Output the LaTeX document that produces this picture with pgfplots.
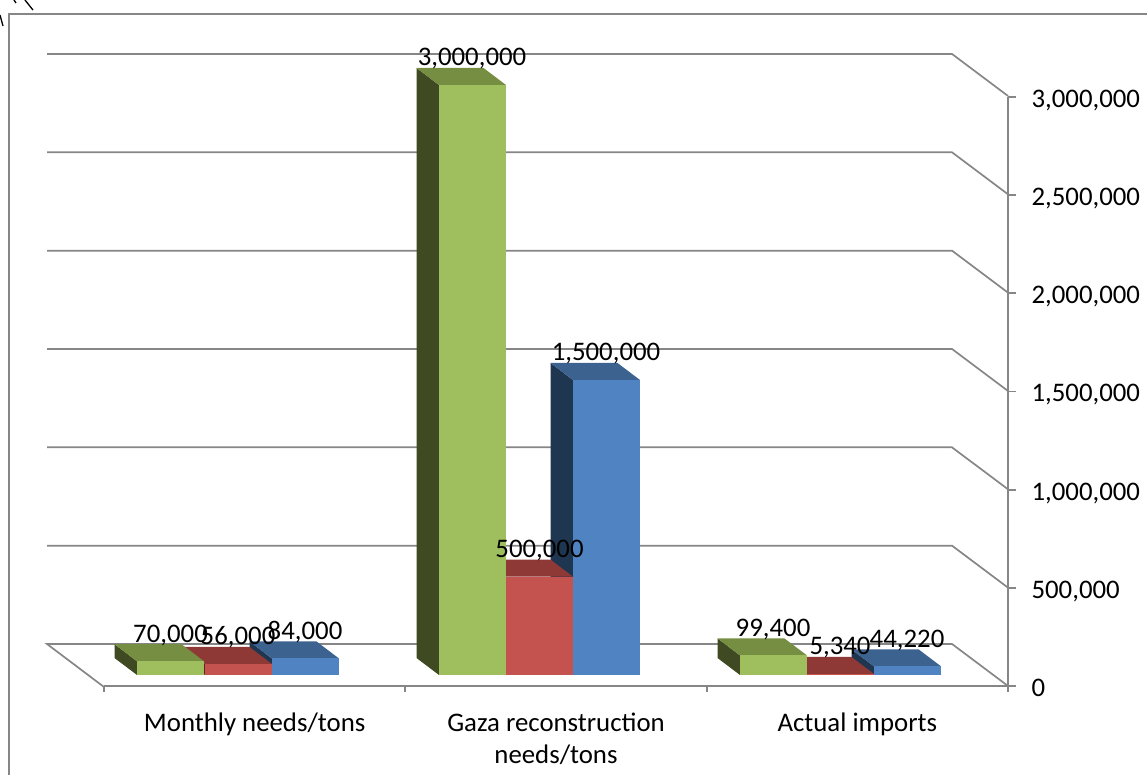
\documentclass[border=0pt]{standalone}
\usepackage{fontspec}
\setmainfont{Carlito}
\usepackage{pgfplots}
\pgfplotsset{compat=1.18}
\definecolor{gridc}{HTML}{868686}
\definecolor{gF}{HTML}{9FBE5D}\definecolor{gS}{HTML}{3F4A22}\definecolor{gT}{HTML}{768E42}
\definecolor{rF}{HTML}{C45350}\definecolor{rS}{HTML}{5E2624}\definecolor{rT}{HTML}{8F3937}
\definecolor{bF}{HTML}{5083C1}\definecolor{bS}{HTML}{1F3650}\definecolor{bT}{HTML}{3C6290}
\newcommand\lblfont{\fontsize{26.8}{32}\selectfont}
% values in thousands of tons; x in picture units
\newcommand\tdbar[3]{% left edge, value, colour prefix
  \pgfmathsetmacro\xa{#1-22.5}\pgfmathsetmacro\xb{#1+67}\pgfmathsetmacro\xc{#1+44.5}
  \pgfmathsetmacro\vt{#2+86.44}
  \addplot[fill=#3S,draw=none,forget plot] coordinates {(\xa,86.44)(#1,0)(#1,#2)(\xa,\vt)} --cycle;
  \addplot[fill=#3T,draw=none,forget plot] coordinates {(#1,#2)(\xa,\vt)(\xc,\vt)(\xb,#2)} --cycle;
  \addplot[fill=#3F,draw=none,forget plot] coordinates {(#1,0)(#1,#2)(\xb,#2)(\xb,0)} --cycle;
}
\newcommand\gridl[1]{%
  \pgfmathsetmacro\va{#1+157.63}\pgfmathsetmacro\vb{#1-55.9}
  \addplot[gridc,line width=1.7pt,forget plot] coordinates {(47,\va)(952,\va)(1008,\vb)};
}
\newcommand\vlabel[3]{% centre x, value, text
  \pgfmathsetmacro\vc{#2+97}
  \edef\tmplabel{\noexpand\node[anchor=base,font=\noexpand\lblfont,inner sep=0pt] at (axis cs:#1,\vc) {#3};}
  \tmplabel
}
\begin{document}
\begin{tikzpicture}[x=1pt,y=1pt]
\path[use as bounding box] (0,0) rectangle (1147,775);
% real value and category axes
\begin{axis}[
  at={(104pt,89pt)},anchor=south west,
  scale only axis,width=904pt,height=589pt,
  xmin=0,xmax=3,ymin=0,ymax=3000000,clip=false,
  axis x line*=bottom,axis y line*=right,
  axis line style={gridc,line width=1.8pt,-},
  tick style={gridc,line width=1.7pt},
  tick align=outside,major tick length=8pt,
  xtick={0.5,1.5,2.5},minor xtick={0,1,2,3},
  minor tick length=6pt,
  major x tick style={draw=none},
  xticklabels={Monthly needs/tons,Gaza reconstruction\\needs/tons,Actual imports},
  xticklabel style={align=center,font=\lblfont,yshift=-15pt},
  ytick={0,500000,1000000,1500000,2000000,2500000,3000000},
  yticklabel style={font=\lblfont,text height=17pt,text depth=0pt,/pgf/number format/fixed,/pgf/number format/1000 sep={,},/pgf/number format/assume math mode=true,xshift=12pt,yshift=-2pt},
  scaled y ticks=false,
]
\end{axis}
\begin{axis}[
  at={(0pt,0pt)},anchor=south west,
  scale only axis,width=1147pt,height=775pt,
  xmin=0,xmax=1147,ymin=-508.475,ymax=3432.2,
  hide axis,clip=false,
]
% chart frame
\addplot[gridc,line width=1.7pt,forget plot] coordinates {(9,-508.475)(9,3361)(1147,3361)};
% wall gridlines and floor
\gridl{500}\gridl{1000}\gridl{1500}\gridl{2000}\gridl{2500}\gridl{3000}
\addplot[gridc,line width=1.7pt,forget plot] coordinates {(104,-61)(47,157.63)(952,157.63)(1008,-55.9)};
% stray marks at the corner
\addplot[black,line width=1.3pt,forget plot] coordinates {(25,3432)(33,3381)};
\addplot[black,line width=1.3pt,forget plot] coordinates {(14,3432)(16,3417)};
\addplot[black,line width=1.3pt,forget plot] coordinates {(0,3356)(3,3300)};
% Monthly needs/tons
\tdbar{272}{84}{b}\tdbar{205}{56}{r}\tdbar{137}{70}{g}
% Gaza reconstruction needs/tons
\tdbar{573}{1500}{b}\tdbar{506}{500}{r}\tdbar{439}{3000}{g}
% Actual imports
\tdbar{874}{44.22}{b}\tdbar{807}{5.34}{r}\tdbar{740}{99.4}{g}
% data labels
\vlabel{170.5}{70}{70,000}\vlabel{238}{56}{56,000}\vlabel{305}{84}{84,000}
\vlabel{472}{3000}{3,000,000}\vlabel{539.5}{500}{500,000}\vlabel{606}{1500}{1,500,000}
\vlabel{773}{99.4}{99,400}\vlabel{840}{5.34}{5,340}\vlabel{907}{44.22}{44,220}
\end{axis}
\end{tikzpicture}
\end{document}
